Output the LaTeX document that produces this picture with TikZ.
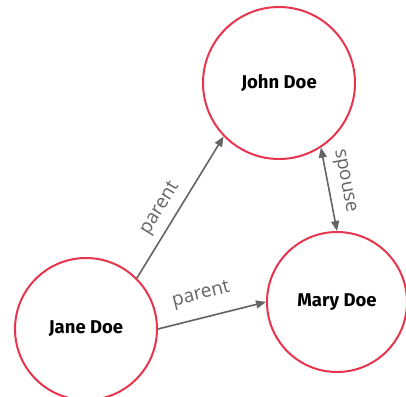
\documentclass[tikz,border=0pt]{standalone}
\usepackage{fontspec}
\setmainfont{Fira Sans}
\newfontfamily\labelfont{Open Sans}
\usetikzlibrary{arrows.meta}
\definecolor{ringred}{HTML}{E8354E}
\definecolor{edgegray}{HTML}{646464}
\begin{document}
\begin{tikzpicture}[x=1pt,y=-1pt,
  person/.style={circle, draw=ringred, line width=2pt, fill=white, inner sep=0pt,
    font=\bfseries\fontsize{18.5}{22}\selectfont},
  rel/.style={draw=edgegray, line width=1.6pt, -{Triangle[length=10pt,width=8pt]}},
  mutual/.style={draw=edgegray, line width=1.6pt, {Triangle[length=10pt,width=8pt]}-{Triangle[length=10pt,width=8pt]}},
  rellabel/.style={font=\labelfont\fontsize{19}{22}\selectfont, text=edgegray, sloped, inner sep=0pt}]
\useasboundingbox (0,0) rectangle (406,396);
\node[person, minimum size=152pt] (john) at (279,83) {John Doe};
\node[person, minimum size=142pt] (jane) at (86,329) {Jane Doe};
\node[person, minimum size=140pt] (mary) at (337,302) {Mary Doe};
\draw[rel] (jane.45) -- node[rellabel, pos=0.43, above=7pt] {parent} (john.224);
\draw[rel] (jane.east) -- node[rellabel, pos=0.45, above=13pt] {parent} (mary.west);
\draw[mutual] (mary.north) -- node[rellabel, pos=0.56, above=8pt] {spouse} (john.-57);
\end{tikzpicture}
\end{document}
